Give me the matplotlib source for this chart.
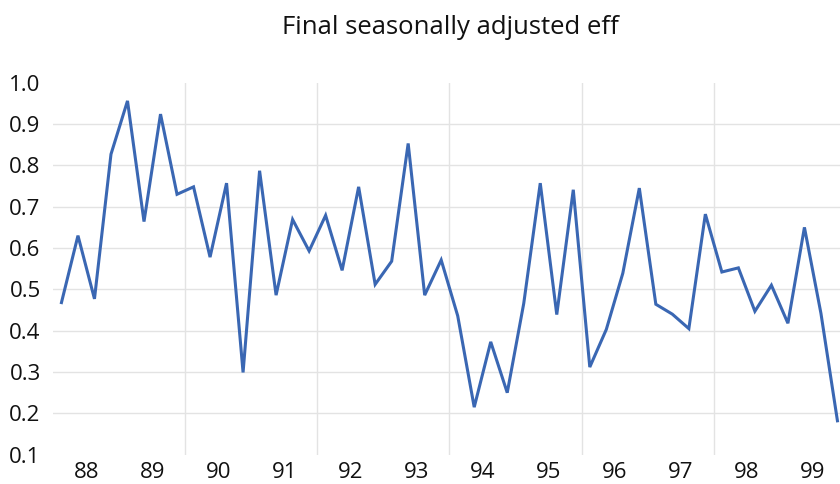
import matplotlib.pyplot as plt
import numpy as np

# -----------------------------
# Data: quarterly values, 1988Q1 - 1999Q4
# -----------------------------
years = ["88", "89", "90", "91", "92", "93", "94", "95", "96", "97", "98", "99"]
eff = [
    0.468, 0.630, 0.477, 0.827,   # 88
    0.956, 0.664, 0.924, 0.730,   # 89
    0.748, 0.578, 0.757, 0.299,   # 90
    0.787, 0.486, 0.669, 0.593,   # 91
    0.679, 0.546, 0.748, 0.512,   # 92
    0.568, 0.853, 0.486, 0.571,   # 93
    0.436, 0.215, 0.373, 0.250,   # 94
    0.466, 0.757, 0.439, 0.741,   # 95
    0.312, 0.403, 0.539, 0.745,   # 96
    0.464, 0.440, 0.405, 0.682,   # 97
    0.542, 0.552, 0.447, 0.510,   # 98
    0.418, 0.650, 0.442, 0.182,   # 99
]
y_ticks = [0.1, 0.2, 0.3, 0.4, 0.5, 0.6, 0.7, 0.8, 0.9, 1.0]

plt.rcParams['font.family'] = ['Open Sans', 'DejaVu Sans']

# -----------------------------
# Figure
# -----------------------------
W, H = 840, 484
fig = plt.figure(figsize=(W / 100, H / 100), dpi=100)
left, right, top, bottom = 53.2, 845.7, 82.7, 454.7
ax = fig.add_axes([left / W, 1 - bottom / H, (right - left) / W, (bottom - top) / H])

x = np.arange(len(eff))
ax.plot(x, eff, color='#3A67B3', linewidth=2.2, solid_joinstyle='miter', clip_on=False, zorder=3)

ax.set_xlim(-0.5, len(eff) - 0.5)
ax.set_ylim(0.1, 1.0)

# horizontal grid
ax.set_yticks(y_ticks)
ax.set_yticklabels([f"{v:.1f}" for v in y_ticks])
for v in y_ticks[1:-1]:
    ax.axhline(v, color='#E3E3E3', linewidth=1.0, zorder=1)

# vertical grid every two years
for b in range(8, len(eff), 8):
    ax.axvline(b - 0.5, color='#E3E3E3', linewidth=1.0, zorder=1)

# year labels centred on each year's four quarters
ax.set_xticks([4 * i + 1.5 for i in range(len(years))])
ax.set_xticklabels(years)

for s in ax.spines.values():
    s.set_visible(False)
ax.tick_params(axis='both', length=0, labelsize=16, colors='#111111')
ax.tick_params(axis='y', pad=9)
ax.tick_params(axis='x', pad=5)

fig.text(450 / W, 1 - 28 / H, "Final seasonally adjusted eff", ha='center', va='center',
         fontsize=18.5, color='#111111')

fig.savefig("out.png", dpi=100)
